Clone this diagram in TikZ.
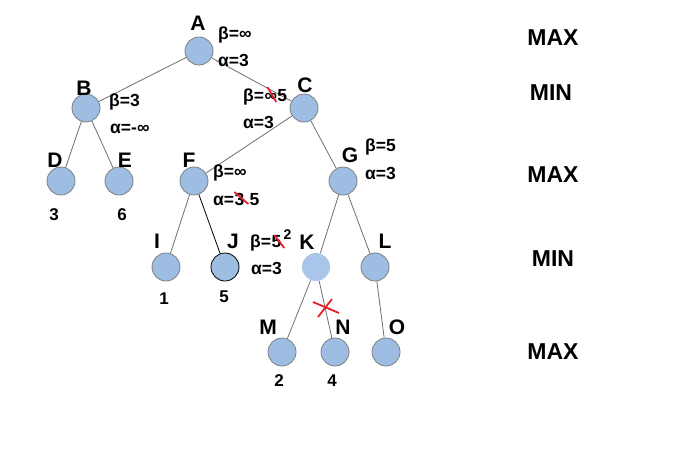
\documentclass[tikz,border=0pt]{standalone}
\usepackage{fontspec}
\setmainfont{Liberation Sans}
\definecolor{nodefill}{HTML}{9DBDE3}
\definecolor{nodefillk}{HTML}{A9C6EA}
\definecolor{nodeedge}{HTML}{7F7F7F}
\definecolor{edgecol}{HTML}{6E6E6E}
\definecolor{strk}{HTML}{E8202A}
\begin{document}
\begin{tikzpicture}[x=1pt,y=-1pt,
  tn/.style={circle,minimum size=28pt,inner sep=0pt,fill=nodefill,draw=nodeedge,line width=0.8pt},
  lbl/.style={font=\fontsize{21}{21}\selectfont\bfseries,inner sep=0pt},
  val/.style={font=\fontsize{17.5}{17.5}\selectfont\bfseries,anchor=base west,inner sep=0pt},
  num/.style={font=\fontsize{17}{17}\selectfont\bfseries,inner sep=0pt},
  lvl/.style={font=\fontsize{23}{23}\selectfont\bfseries,inner sep=0pt},
  edge/.style={draw=edgecol,line width=0.8pt},
  strike/.style={draw=strk,line width=1.8pt}]
\useasboundingbox (0,0) rectangle (691,459);
% tree nodes
\node[tn] (A) at (199,51) {};
\node[tn] (B) at (86,108) {};
\node[tn] (C) at (304,108) {};
\node[tn] (D) at (61,181) {};
\node[tn] (E) at (119,181) {};
\node[tn] (F) at (194,181) {};
\node[tn] (G) at (343,181) {};
\node[tn] (I) at (166,267) {};
\node[tn,draw=black] (J) at (225,267) {};
\node[tn,fill=nodefillk,draw=none] (K) at (316,267) {};
\node[tn] (L) at (375,267) {};
\node[tn] (M) at (282,352) {};
\node[tn] (N) at (335,352) {};
\node[tn] (O) at (386,352) {};
% edges
\draw[edge] (A) -- (B);
\draw[edge] (A) -- (C);
\draw[edge] (B) -- (D);
\draw[edge] (B) -- (E);
\draw[edge] (C) -- (F);
\draw[edge] (C) -- (G);
\draw[edge] (F) -- (I);
\draw[draw=black,line width=0.8pt] (F) -- (J);
\draw[edge] (G) -- (K);
\draw[edge] (G) -- (L);
\draw[edge] (K) -- (M);
\draw[edge] (K) -- (N);
\draw[edge] (L) -- (O);
% letter labels
\node[lbl] (lA) at (198,23) {A};
\node[lbl] (lB) at (84,88) {B};
\node[lbl] (lC) at (305,85) {C};
\node[lbl] (lD) at (55,160) {D};
\node[lbl] (lE) at (125,160) {E};
\node[lbl] (lF) at (189,160) {F};
\node[lbl] (lG) at (350,155) {G};
\node[lbl] (lI) at (157,241) {I};
\node[lbl] (lJ) at (233,241) {J};
\node[lbl] (lK) at (307,242) {K};
\node[lbl] (lL) at (385,241) {L};
\node[lbl] (lM) at (268,327) {M};
\node[lbl] (lN) at (343,327) {N};
\node[lbl] (lO) at (397,327) {O};
% values (baselines)
\node[val] (vAb) at (218,39) {β=∞};
\node[val] (vAa) at (218,66) {α=3};
\node[val] (vBb) at (109,106) {β=3};
\node[val] (vBa) at (110,133) {α=-∞};
\node[val] (vCb) at (243,101) {β=};
\node[val] (vCinf) at (vCb.base east) {∞};
\node[val] (vC5) at (vCinf.base east) {5};
\node[val] (vCa) at (243,128) {α=3};
\node[val] (vFb) at (213,177) {β=∞};
\node[val] (vFa) at (213,205) {α=};
\node[val] (vF3) at (vFa.base east) {3};
\node[val] (vF5) at ([xshift=5pt]vF3.base east) {5};
\node[val] (vGb) at (365,151) {β=5};
\node[val] (vGa) at (365,179) {α=3};
\node[val] (vKb) at (250,247) {β=};
\node[val] (vK5) at (vKb.base east) {5};
\node[val,font=\fontsize{14}{14}\selectfont\bfseries] (vK2) at ([xshift=2pt,yshift=8pt]vK5.base east) {2};
\node[val] (vKa) at (251,274) {α=3};
% leaf values
\node[num] (nD) at (54,215) {3};
\node[num] (nE) at (122,215) {6};
\node[num] (nI) at (164,299) {1};
\node[num] (nJ) at (224,297) {5};
\node[num] (nM) at (279,381) {2};
\node[num] (nN) at (332,381) {4};
% level labels
\node[lvl] (m1) at (553,38) {MAX};
\node[lvl] (m2) at (551,93) {MIN};
\node[lvl] (m3) at (553,175) {MAX};
\node[lvl] (m4) at (553,259) {MIN};
\node[lvl] (m5) at (553,352) {MAX};
% red strikes
\draw[strike] ([shift={(3,-14)}]vCinf.base west) -- ([shift={(12,1)}]vCinf.base west);
\draw[strike] ([shift={(0,-13)}]vF3.base west) -- ([shift={(14,-1)}]vF3.base west);
\draw[strike] ([shift={(3,-12)}]vK5.base west) -- ([shift={(13,1)}]vK5.base west);
\coordinate (x1) at (313,302);
\coordinate (x2) at (339,313);
\coordinate (x3) at (332,299);
\coordinate (x4) at (318,317);
\draw[strike] (x1) -- (x2);
\draw[strike] (x3) -- (x4);
\end{tikzpicture}
\end{document}
